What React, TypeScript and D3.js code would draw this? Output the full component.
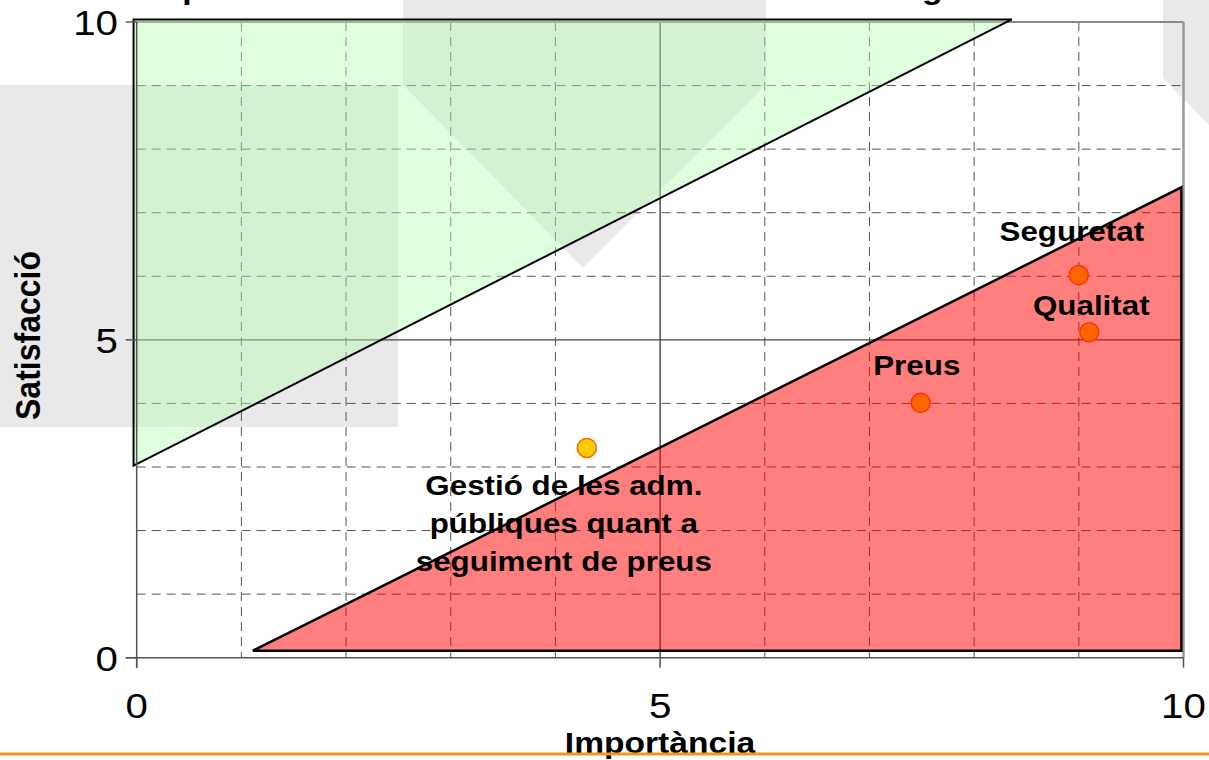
import React from "react";
import * as d3 from "d3";

// ---- data ----
const pointNames = ["Seguretat", "Qualitat", "Preus", "Gestió de les adm. públiques quant a seguiment de preus"];
const importance = [9.0, 9.1, 7.49, 4.3];
const satisfaction = [6.02, 5.12, 4.01, 3.3];
const pointFill = ["#FF6600", "#FF6600", "#FF6600", "#FFCC00"];
const pointStroke = ["#FF3300", "#FF3300", "#FF3300", "#FF6600"];
const labelLines = [["Seguretat"], ["Qualitat"], ["Preus"], ["Gestió de les adm.", "públiques quant a", "seguiment de preus"]];
const labelOffsets = [[-7, -34], [2, -17], [-4, -28], [-23, 47]];

const greenZoneX = [-0.03, 8.36, -0.03];
const greenZoneY = [10.04, 10.04, 3.02];
const redZoneX = [1.11, 9.98, 9.98];
const redZoneY = [0.11, 7.4, 0.11];

const xTicks = [0, 5, 10];
const yTicks = [0, 5, 10];
const gridValues = [1, 2, 3, 4, 6, 7, 8, 9];

const titleText = "Importància vs Satisfacció dels atributs de l'energia";
const xTitle = "Importància";
const yTitle = "Satisfacció";

// background watermark shapes (decoration, pixel space)
const bgShapes = [
  "M0,85 L398,85 L398,427 L0,427 Z",
  "M403,0 L766,0 L766,85 L583,268 L403,85 Z",
  "M1163,0 L1209,0 L1209,125 L1163,78 Z",
];

const W = 1209, H = 760;
const SX = 1.12;
const FONT = "'Liberation Sans', Arial, Helvetica, sans-serif";

function T({ x, y, size, weight = "normal", anchor = "start", children, rotate = 0 }: any) {
  const tf = rotate
    ? `translate(${x},${y}) rotate(${rotate}) scale(1,${SX})`
    : `translate(${x},${y}) scale(${SX},1)`;
  return (
    <text transform={tf} fontSize={size} fontWeight={weight} textAnchor={anchor} fontFamily={FONT} fill="#000">
      {children}
    </text>
  );
}

export default function App() {
  const x = d3.scaleLinear().domain([0, 10]).range([136.7, 1183.5]);
  const y = d3.scaleLinear().domain([0, 10]).range([657.7, 22]);
  const poly = (xs: number[], ys: number[]) =>
    d3.line<number>().x((_, i) => x(xs[i])).y((_, i) => y(ys[i]))(xs.map((_, i) => i)) + "Z";

  return (
    <svg width={W} height={H} style={{ position: "absolute", left: 0, top: 0, background: "#fff" }}>
      {bgShapes.map((d, i) => (
        <path key={i} d={d} fill="#e9e9e9" />
      ))}

      {/* grid */}
      {gridValues.map((v) => (
        <line key={"gx" + v} x1={x(v)} x2={x(v)} y1={y(10)} y2={y(0)} stroke="#555" strokeWidth={1} strokeDasharray="9,6" />
      ))}
      {gridValues.map((v) => (
        <line key={"gy" + v} x1={x(0)} x2={x(10)} y1={y(v)} y2={y(v)} stroke="#555" strokeWidth={1} strokeDasharray="9,6" />
      ))}
      <line x1={x(5)} x2={x(5)} y1={y(10)} y2={y(0)} stroke="#222" strokeWidth={1.2} />
      <line x1={x(0)} x2={x(10)} y1={y(5)} y2={y(5)} stroke="#444" strokeWidth={1.2} />

      {/* border */}
      <line x1={x(0)} x2={x(10)} y1={y(10)} y2={y(10)} stroke="#888" strokeWidth={2} />
      <line x1={x(10)} x2={x(10)} y1={y(10)} y2={y(0)} stroke="#999" strokeWidth={2.5} />

      {/* zones */}
      <path d={poly(greenZoneX, greenZoneY)} fill="#b3ffb3" fillOpacity={0.42} stroke="#000" strokeWidth={2} />
      <path d={poly(redZoneX, redZoneY)} fill="#ff0000" fillOpacity={0.5} stroke="#000" strokeWidth={2.5} />

      {/* axes */}
      <line x1={x(0)} x2={x(0)} y1={y(10)} y2={y(0) + 10} stroke="#555" strokeWidth={1.5} />
      <line x1={x(0) - 11} x2={x(10)} y1={y(0)} y2={y(0)} stroke="#555" strokeWidth={1.5} />
      {xTicks.map((t) => (
        <line key={"xt" + t} x1={x(t)} x2={x(t)} y1={y(0)} y2={y(0) + 10} stroke="#555" strokeWidth={1.5} />
      ))}
      {yTicks.map((t) => (
        <line key={"yt" + t} x1={x(0) - 11} x2={x(0)} y1={y(t)} y2={y(t)} stroke="#555" strokeWidth={1.5} />
      ))}
      {xTicks.map((t) => (
        <T key={"xl" + t} x={x(t)} y={718} size={36} anchor="middle">{t}</T>
      ))}
      {yTicks.map((t) => (
        <T key={"yl" + t} x={118} y={y(t) + 13} size={36} anchor="end">{t}</T>
      ))}

      {/* points */}
      {importance.map((v, i) => (
        <circle key={"p" + i} cx={x(v)} cy={y(satisfaction[i])} r={9.5} fill={pointFill[i]} stroke={pointStroke[i]} strokeWidth={1.5} />
      ))}
      {labelLines.map((lines, i) =>
        lines.map((ln, j) => (
          <T key={"lb" + i + "_" + j} x={x(importance[i]) + labelOffsets[i][0]} y={y(satisfaction[i]) + labelOffsets[i][1] + j * 38}
             size={28} weight="bold" anchor="middle">{ln}</T>
        ))
      )}

      {/* titles */}
      <T x={143} y={-1} size={30} weight="bold">{titleText}</T>
      <T x={40} y={420} size={32} weight="bold" rotate={-90}>{yTitle}</T>
      <T x={660} y={753} size={30} weight="bold" anchor="middle">{xTitle}</T>

      <line x1={0} x2={W} y1={754} y2={754} stroke="#F7931E" strokeWidth={3} />
    </svg>
  );
}
